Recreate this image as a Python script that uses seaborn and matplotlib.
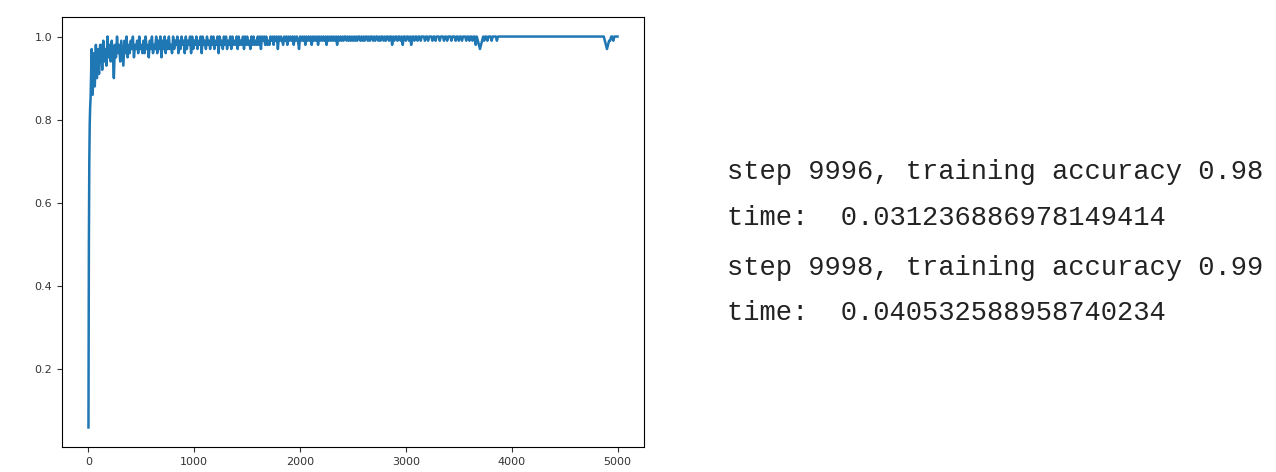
import numpy as np
import pandas as pd
import seaborn as sns
import matplotlib
matplotlib.use("Agg")
import matplotlib.pyplot as plt

# accuracy: fast rise, then a noisy band near 1.0
steps_early = [0, 4, 8, 12, 16, 20, 30, 40, 50, 60, 70, 80, 90, 100, 110]
acc_early = [0.06, 0.50, 0.70, 0.79, 0.83, 0.85, 0.97, 0.86, 0.96, 0.88,
             0.98, 0.90, 0.97, 0.91, 0.98]

# one value every 10 steps from 120 to 5000 (each row = 200 steps)
acc_late = [
    0.98, 0.92, 0.99, 0.94, 0.97, 0.93, 1.00, 0.95, 0.98, 0.94, 0.99, 0.96, 0.90, 0.98, 0.95, 1.00, 0.96, 0.98, 0.94, 0.99,
    0.96, 0.93, 0.99, 0.96, 1.00, 0.95, 0.98, 0.96, 0.99, 0.97, 1.00, 0.95, 0.98, 0.97, 0.99, 0.96, 1.00, 0.97, 0.98, 0.96,
    0.99, 0.96, 1.00, 0.97, 0.98, 0.95, 0.99, 0.97, 1.00, 0.96, 0.98, 0.97, 1.00, 0.96, 0.99, 0.97, 1.00, 0.95, 0.99, 0.97,
    1.00, 0.96, 0.99, 0.97, 1.00, 0.97, 0.98, 0.96, 1.00, 0.97, 0.99, 0.98, 1.00, 0.96, 0.99, 0.97, 1.00, 0.98, 0.99, 0.96,
    1.00, 0.97, 0.99, 0.98, 1.00, 0.96, 1.00, 0.97, 0.99, 0.98, 1.00, 0.97, 0.99, 0.98, 1.00, 0.96, 1.00, 0.98, 0.99, 0.97,
    1.00, 0.98, 0.99, 0.97, 1.00, 0.98, 1.00, 0.97, 0.99, 0.98, 1.00, 0.96, 1.00, 0.98, 0.99, 0.97, 1.00, 0.98, 1.00, 0.97,
    0.99, 0.98, 1.00, 0.97, 1.00, 0.98, 0.99, 0.98, 1.00, 0.97, 1.00, 0.98, 0.99, 0.98, 1.00, 0.97, 1.00, 0.98, 1.00, 0.98,
    0.99, 0.97, 1.00, 0.98, 1.00, 0.98, 0.99, 0.98, 1.00, 0.98, 1.00, 0.97, 1.00, 0.99, 1.00, 0.98, 1.00, 0.98, 0.99, 0.98,
    1.00, 0.99, 1.00, 0.98, 1.00, 0.99, 1.00, 0.97, 1.00, 0.99, 1.00, 0.99, 0.98, 1.00, 0.99, 1.00, 0.98, 1.00, 0.99, 1.00,
    0.99, 1.00, 0.98, 1.00, 0.99, 1.00, 0.99, 0.97, 1.00, 0.99, 1.00, 0.99, 1.00, 0.98, 1.00, 0.99, 1.00, 0.99, 1.00, 0.98,
    1.00, 0.99, 1.00, 0.99, 1.00, 0.98, 1.00, 0.99, 1.00, 0.99, 1.00, 0.99, 1.00, 0.98, 1.00, 0.99, 1.00, 0.99, 1.00, 0.99,
    1.00, 0.99, 1.00, 0.98, 1.00, 0.99, 1.00, 0.99, 1.00, 0.99, 1.00, 1.00, 0.99, 1.00, 0.99, 1.00, 0.99, 1.00, 0.99, 1.00,
    0.99, 1.00, 0.99, 1.00, 1.00, 0.99, 1.00, 0.99, 1.00, 0.99, 1.00, 1.00, 0.99, 1.00, 0.99, 1.00, 1.00, 0.99, 1.00, 0.99,
    1.00, 1.00, 0.99, 1.00, 0.99, 1.00, 1.00, 0.99, 1.00, 0.99, 1.00, 1.00, 0.99, 1.00, 1.00, 0.98, 1.00, 0.99, 1.00, 1.00,
    0.99, 1.00, 1.00, 0.99, 1.00, 0.98, 1.00, 1.00, 0.99, 1.00, 1.00, 0.99, 1.00, 0.98, 1.00, 1.00, 0.99, 1.00, 1.00, 0.99,
    1.00, 1.00, 0.99, 1.00, 1.00, 1.00, 0.99, 1.00, 1.00, 0.99, 1.00, 1.00, 1.00, 0.99, 1.00, 1.00, 0.99, 1.00, 1.00, 1.00,
    0.99, 1.00, 1.00, 1.00, 0.99, 1.00, 1.00, 0.99, 1.00, 1.00, 1.00, 0.99, 1.00, 1.00, 1.00, 0.99, 1.00, 1.00, 0.99, 1.00,
    1.00, 0.99, 1.00, 1.00, 1.00, 0.99, 1.00, 1.00, 0.99, 1.00, 1.00, 0.99, 1.00, 1.00, 0.98, 1.00, 0.99, 0.98, 0.97, 0.98,
    0.99, 1.00, 0.99, 1.00, 1.00, 0.99, 1.00, 1.00, 1.00, 0.99, 1.00, 1.00, 1.00, 1.00, 0.99, 1.00, 1.00, 1.00, 1.00, 1.00,
    1.00, 1.00, 1.00, 1.00, 1.00, 1.00, 1.00, 1.00, 1.00, 1.00, 1.00, 1.00, 1.00, 1.00, 1.00, 1.00, 1.00, 1.00, 1.00, 1.00,
    1.00, 1.00, 1.00, 1.00, 1.00, 1.00, 1.00, 1.00, 1.00, 1.00, 1.00, 1.00, 1.00, 1.00, 1.00, 1.00, 1.00, 1.00, 1.00, 1.00,
    1.00, 1.00, 1.00, 1.00, 1.00, 1.00, 1.00, 1.00, 1.00, 1.00, 1.00, 1.00, 1.00, 1.00, 1.00, 1.00, 1.00, 1.00, 1.00, 1.00,
    1.00, 1.00, 1.00, 1.00, 1.00, 1.00, 1.00, 1.00, 1.00, 1.00, 1.00, 1.00, 1.00, 1.00, 1.00, 1.00, 1.00, 1.00, 1.00, 1.00,
    1.00, 1.00, 1.00, 1.00, 1.00, 1.00, 1.00, 1.00, 1.00, 1.00, 1.00, 1.00, 1.00, 1.00, 1.00, 1.00, 0.99, 0.98, 0.97, 0.98,
    0.99, 0.99, 1.00, 1.00, 0.99, 1.00, 1.00, 1.00, 1.00,
]
steps_late = list(range(120, 5001, 10))

log_lines = [
    "step 9996, training accuracy 0.98",
    "time:  0.031236886978149414",
    "step 9998, training accuracy 0.99",
    "time:  0.040532588958740234",
]

df = pd.DataFrame({"step": steps_early + steps_late, "acc": acc_early + acc_late})

fig = plt.figure(figsize=(12.76, 4.72), dpi=100)
ax = fig.add_axes([62 / 1276, 25 / 472, 582 / 1276, 430 / 472])
sns.lineplot(data=df, x="step", y="acc", ax=ax, estimator=None,
             color="#1f77b4", linewidth=1.8)
ax.set_xlabel("")
ax.set_ylabel("")
ax.set_xticks([0, 1000, 2000, 3000, 4000, 5000])
ax.set_yticks([0.2, 0.4, 0.6, 0.8, 1.0])
ax.tick_params(labelsize=8, colors="#333333")

ys = [172, 218, 268, 313]
for line, y in zip(log_lines, ys):
    fig.text(727 / 1276, 1 - y / 472, line, family="Liberation Mono",
             fontsize=19.5, color="#222222", va="center", ha="left")

fig.savefig("out.png", dpi=100)
